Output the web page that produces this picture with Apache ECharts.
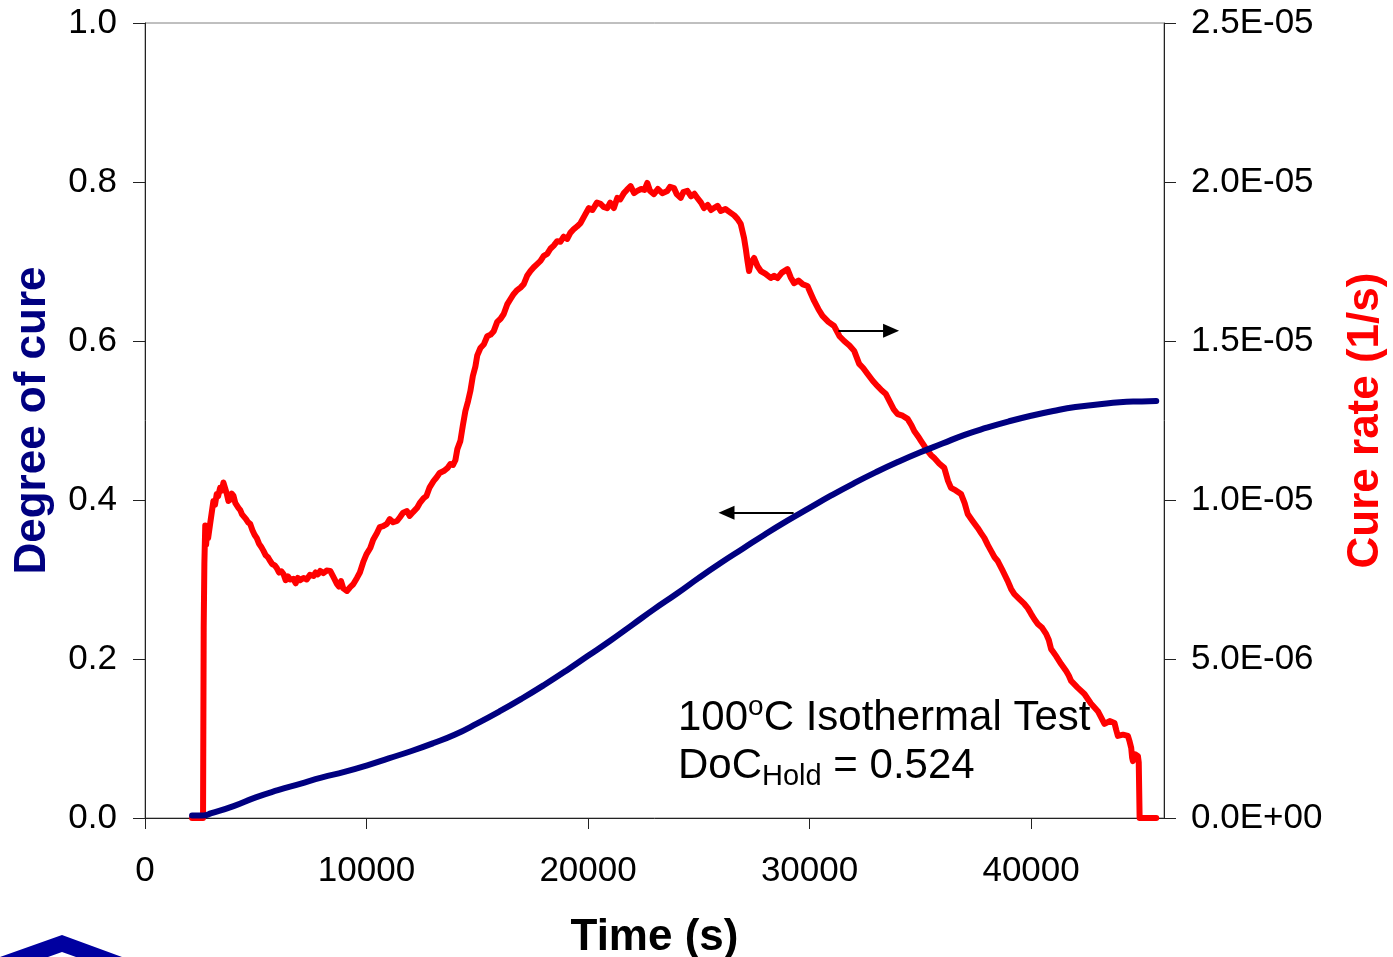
<!DOCTYPE html>
<html>
<head>
<meta charset="utf-8">
<script src="https://cdn.jsdelivr.net/npm/echarts@6/dist/echarts.min.js"></script>
<style>
html,body{margin:0;padding:0;background:#fff;}
#chart{width:1393px;height:957px;}
</style>
</head>
<body>
<div id="chart"></div>
<script>
// ---- Data ----
// Degree of cure (left axis): [time s, degree of cure]
const docPoints = [
  [2124, 0.003], [2620, 0.003], [3000, 0.006], [4000, 0.015], [5000, 0.026], [6000, 0.035],
  [7000, 0.043], [8000, 0.051], [9000, 0.058], [10000, 0.066], [11000, 0.075], [12000, 0.084],
  [13000, 0.094], [14000, 0.105], [15000, 0.119], [16000, 0.134], [17000, 0.150], [18000, 0.167],
  [19000, 0.185], [20000, 0.204], [21000, 0.223], [22000, 0.243], [23000, 0.263], [24000, 0.282],
  [25000, 0.302], [26000, 0.321], [27000, 0.339], [28000, 0.357], [29000, 0.374], [30000, 0.390],
  [31000, 0.406], [32000, 0.421], [33000, 0.435], [34000, 0.448], [35000, 0.460], [36000, 0.471],
  [37000, 0.482], [38000, 0.491], [39000, 0.499], [40000, 0.506], [41000, 0.512], [42000, 0.517],
  [43000, 0.520], [44000, 0.523], [45000, 0.524], [45650, 0.5245]
];

// Cure rate (right axis): [time s, rate in units of 1E-05 1/s]
const ratePoints = [
  [2124, 0], [2620, 0], [2650, 0.60], [2680, 0.80], [2720, 0.92], [2760, 0.86], [2800, 0.90], [2850, 0.88],
  [2950, 0.93], [3013, 0.934], [3088, 0.997], [3160, 0.985], [3239, 1.019], [3300, 1.012], [3390, 1.038],
  [3480, 1.030], [3540, 1.055], [3616, 1.060], [3690, 1.020], [3767, 0.997], [3860, 1.002], [3920, 1.020],
  [3993, 1.013], [4080, 0.990], [4150, 0.985], [4218, 0.975], [4300, 0.968], [4380, 0.955], [4445, 0.950],
  [4560, 0.940], [4650, 0.930], [4746, 0.925], [4850, 0.905], [4950, 0.890], [5047, 0.880], [5150, 0.862],
  [5250, 0.852], [5349, 0.840], [5450, 0.826], [5550, 0.820], [5650, 0.808], [5750, 0.798], [5850, 0.795],
  [5951, 0.786], [6050, 0.772], [6150, 0.776], [6252, 0.767], [6350, 0.748], [6450, 0.760], [6550, 0.750],
  [6704, 0.752], [6800, 0.738], [6900, 0.755], [7000, 0.748], [7156, 0.755], [7300, 0.750], [7450, 0.765],
  [7608, 0.761], [7700, 0.772], [7800, 0.766], [7910, 0.777], [8050, 0.770], [8200, 0.778], [8362, 0.777],
  [8450, 0.765], [8550, 0.752], [8663, 0.736], [8750, 0.728], [8850, 0.745], [8950, 0.722], [9116, 0.714],
  [9250, 0.725], [9400, 0.735], [9568, 0.755], [9700, 0.772], [9869, 0.808], [10000, 0.830], [10170, 0.849],
  [10300, 0.875], [10472, 0.896], [10600, 0.915], [10750, 0.918], [10924, 0.925], [11050, 0.940], [11200, 0.930],
  [11376, 0.934], [11500, 0.945], [11650, 0.960], [11828, 0.965], [11950, 0.950], [12100, 0.962], [12279, 0.975],
  [12400, 0.990], [12580, 1.006], [12700, 1.012], [12850, 1.040], [13031, 1.060], [13150, 1.070], [13300, 1.085],
  [13483, 1.091], [13650, 1.100], [13785, 1.113], [13900, 1.110], [14011, 1.125], [14100, 1.160], [14237, 1.186],
  [14350, 1.235], [14463, 1.280], [14580, 1.310], [14689, 1.343], [14800, 1.390], [14915, 1.420], [15000, 1.455],
  [15141, 1.478], [15300, 1.490], [15450, 1.515], [15600, 1.520], [15743, 1.531], [15900, 1.560], [16050, 1.570],
  [16194, 1.585], [16350, 1.615], [16500, 1.632], [16646, 1.648], [16800, 1.660], [16950, 1.668], [17098, 1.679],
  [17250, 1.705], [17401, 1.720], [17550, 1.732], [17700, 1.742], [17853, 1.752], [18000, 1.768], [18156, 1.774],
  [18300, 1.790], [18450, 1.800], [18608, 1.814], [18750, 1.812], [18900, 1.828], [19060, 1.821], [19200, 1.840],
  [19358, 1.852], [19500, 1.860], [19661, 1.871], [19850, 1.895], [20036, 1.918], [20200, 1.912], [20400, 1.935],
  [20565, 1.931], [20700, 1.922], [20867, 1.918], [21000, 1.935], [21166, 1.918], [21320, 1.950], [21450, 1.945],
  [21618, 1.965], [21750, 1.975], [21921, 1.987], [22080, 1.965], [22224, 1.972], [22400, 1.978], [22550, 1.975],
  [22676, 1.997], [22800, 1.972], [22974, 1.962], [23150, 1.978], [23350, 1.965], [23580, 1.972], [23700, 1.985],
  [23878, 1.981], [24000, 1.962], [24181, 1.950], [24300, 1.968], [24484, 1.972], [24650, 1.955], [24800, 1.963],
  [24936, 1.950], [25100, 1.935], [25234, 1.918], [25400, 1.928], [25550, 1.912], [25686, 1.918], [25850, 1.925],
  [25989, 1.909], [26200, 1.915], [26441, 1.903], [26600, 1.895], [26744, 1.884], [26893, 1.868], [27042, 1.824],
  [27120, 1.790], [27196, 1.752], [27268, 1.720], [27350, 1.745], [27494, 1.761], [27650, 1.735], [27797, 1.720],
  [28000, 1.712], [28249, 1.698], [28400, 1.705], [28552, 1.698], [28750, 1.715], [29003, 1.726], [29150, 1.700],
  [29302, 1.682], [29500, 1.690], [29700, 1.678], [29907, 1.673], [30050, 1.650], [30206, 1.626], [30400, 1.600],
  [30585, 1.579], [30850, 1.560], [31110, 1.547], [31350, 1.515], [31562, 1.500], [31800, 1.486], [32014, 1.469],
  [32240, 1.428], [32420, 1.415], [32620, 1.396], [32850, 1.375], [33072, 1.358], [33250, 1.345], [33446, 1.333],
  [33672, 1.302], [33800, 1.285], [33976, 1.270], [34200, 1.265], [34427, 1.255], [34600, 1.235], [34725, 1.217],
  [34900, 1.200], [35028, 1.186], [35180, 1.170], [35331, 1.154], [35500, 1.140], [35629, 1.132], [35850, 1.115],
  [36081, 1.101], [36250, 1.060], [36384, 1.038], [36600, 1.030], [36836, 1.019], [37000, 0.990], [37139, 0.956],
  [37350, 0.935], [37591, 0.912], [37750, 0.895], [37889, 0.881], [38050, 0.858], [38192, 0.840], [38350, 0.820],
  [38495, 0.808], [38700, 0.780], [38947, 0.745], [39100, 0.720], [39245, 0.704], [39450, 0.690], [39697, 0.673],
  [39850, 0.660], [40000, 0.642], [40150, 0.625], [40303, 0.610], [40500, 0.598], [40678, 0.579], [40800, 0.560],
  [40904, 0.531], [41000, 0.522], [41130, 0.509], [41350, 0.485], [41582, 0.462], [41700, 0.448], [41808, 0.431],
  [42100, 0.410], [42409, 0.390], [42700, 0.360], [43014, 0.336], [43150, 0.318], [43313, 0.296], [43550, 0.305],
  [43765, 0.299], [43850, 0.275], [43918, 0.258], [44150, 0.262], [44370, 0.258], [44450, 0.240], [44520, 0.220],
  [44560, 0.190], [44596, 0.179], [44700, 0.200], [44822, 0.195], [44860, 0.175], [44895, 0.170], [44900, 0],
  [45650, 0]
];

// Tick labels
const xTicks = [0, 10000, 20000, 30000, 40000];
const leftTickLabels = ['0.0', '0.2', '0.4', '0.6', '0.8', '1.0'];
const rightTickLabels = ['0.0E+00', '5.0E-06', '1.0E-05', '1.5E-05', '2.0E-05', '2.5E-05'];

// Annotation arrows (data coordinates: time, degree of cure); the second point is the arrow head centre
const arrowToRight = [[31300, 0.613], [33680, 0.613]];
const arrowToLeft = [[29280, 0.384], [26250, 0.384]];

// ---- Chart ----
const FONT = "'Liberation Sans', Arial, sans-serif";
const docData = docPoints.map(p => [p[0], p[1]]);
const rateData = ratePoints.map(p => [p[0], p[1] * 1e-5]);

const chart = echarts.init(document.getElementById('chart'), null, {renderer: 'canvas'});
const arrowLine = (pair) => [
  {coord: pair[0], symbol: 'none'},
  {coord: pair[1], symbol: 'triangle', symbolSize: [14, 16]}
];

chart.setOption({
  animation: false,
  backgroundColor: '#ffffff',
  grid: {left: 145, right: 229, top: 23, bottom: 139, show: true, borderColor: '#808080', borderWidth: 1, containLabel: false, outerBoundsMode: 'none'},
  xAxis: {
    type: 'value', min: 0, max: 46000, interval: 10000,
    name: 'Time (s)', nameLocation: 'middle', nameGap: 98, nameMoveOverlap: false,
    nameTextStyle: {fontFamily: FONT, fontSize: 44, fontWeight: 'bold', color: '#000'},
    axisLine: {show: true, lineStyle: {color: '#222', width: 1}},
    axisTick: {show: true, inside: false, length: 11, lineStyle: {color: '#222'}, customValues: xTicks},
    axisLabel: {fontFamily: FONT, fontSize: 35, color: '#000', margin: 36, customValues: xTicks,
      formatter: (v) => String(v)},
    splitLine: {show: false}
  },
  yAxis: [{
    type: 'value', position: 'left', min: 0, max: 1, interval: 0.2,
    name: 'Degree of cure', nameLocation: 'middle', nameGap: 90, nameRotate: 90, nameMoveOverlap: false,
    nameTextStyle: {fontFamily: FONT, fontSize: 44, fontWeight: 'bold', color: '#000080'},
    axisLine: {show: true, lineStyle: {color: '#222', width: 1}},
    axisTick: {show: true, inside: false, length: 12, lineStyle: {color: '#222'}},
    axisLabel: {fontFamily: FONT, fontSize: 35, color: '#000', margin: 28,
      formatter: (v) => leftTickLabels[Math.round(v / 0.2)]},
    splitLine: {show: false}
  }, {
    type: 'value', position: 'right', min: 0, max: 2.5e-5, interval: 5e-6,
    name: 'Cure rate (1/s)', nameLocation: 'middle', nameGap: 180, nameRotate: 90, nameMoveOverlap: false,
    nameTextStyle: {fontFamily: FONT, fontSize: 44, fontWeight: 'bold', color: '#ff0000'},
    axisLine: {show: true, lineStyle: {color: '#222', width: 1}},
    axisTick: {show: true, inside: false, length: 12, lineStyle: {color: '#222'}},
    axisLabel: {fontFamily: FONT, fontSize: 35, color: '#000', margin: 27,
      formatter: (v) => rightTickLabels[Math.round(v / 5e-6)]},
    splitLine: {show: false}
  }],
  series: [{
    name: 'Cure rate', type: 'line', yAxisIndex: 1, data: rateData,
    showSymbol: false, symbol: 'none', smooth: false,
    lineStyle: {color: '#ff0000', width: 6, join: 'round', cap: 'round'},
    z: 3
  }, {
    name: 'Degree of cure', type: 'line', yAxisIndex: 0, data: docData,
    showSymbol: false, symbol: 'none', smooth: true,
    lineStyle: {color: '#000080', width: 6, cap: 'round'},
    z: 4,
    markLine: {
      silent: true, animation: false,
      label: {show: false},
      lineStyle: {color: '#000', width: 2, type: 'solid'},
      emphasis: {disabled: true},
      data: [arrowLine(arrowToRight), arrowLine(arrowToLeft)]
    }
  }],
  graphic: [{
    type: 'text', left: 678, top: 693, z: 10,
    style: {
      text: '{a|100}{sup|o}{a|C Isothermal Test}',
      rich: {
        a: {fontFamily: FONT, fontSize: 42, color: '#000', lineHeight: 46, verticalAlign: 'bottom'},
        sup: {fontFamily: FONT, fontSize: 28, color: '#000', lineHeight: 30, verticalAlign: 'top'}
      }
    }
  }, {
    type: 'text', left: 678, top: 745, z: 10,
    style: {
      text: '{a|DoC}{sub|Hold}{a| = 0.524}',
      rich: {
        a: {fontFamily: FONT, fontSize: 42, color: '#000', lineHeight: 46, verticalAlign: 'top'},
        sub: {fontFamily: FONT, fontSize: 29, color: '#000', lineHeight: 32, verticalAlign: 'bottom'}
      }
    }
  }, {
    type: 'polygon', z: 10,
    shape: {points: [[0, 957], [62, 935], [122, 957], [76, 957], [62, 952], [48, 957]]},
    style: {fill: '#0000a0'}
  }]
});
</script>
</body>
</html>
